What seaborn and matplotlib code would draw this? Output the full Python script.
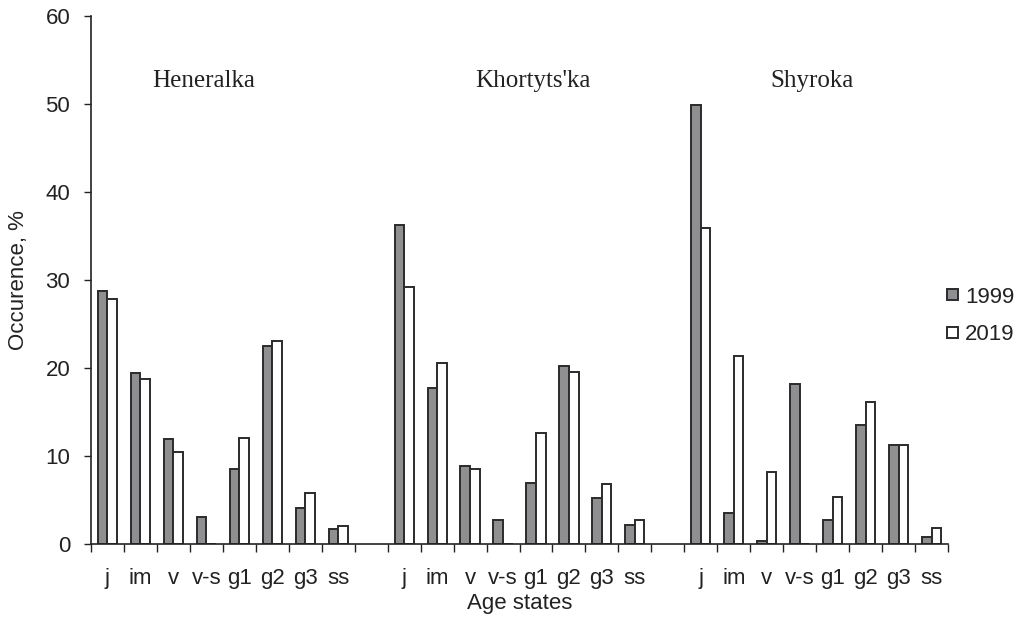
import numpy as np
import pandas as pd
import seaborn as sns
import matplotlib.pyplot as plt
from matplotlib.patches import Patch

# age states repeated for each site
states = ["j", "im", "v", "v-s", "g1", "g2", "g3", "ss"]
sites = ["Heneralka", "Khortyts'ka", "Shyroka"]
years = ["1999", "2019"]

# occurrence, %
heneralka_1999 = [28.8, 19.4, 11.9, 3.1, 8.5, 22.5, 4.1, 1.7]
heneralka_2019 = [27.8, 18.8, 10.5, 0.0, 12.1, 23.1, 5.8, 2.0]
khortytska_1999 = [36.3, 17.7, 8.9, 2.7, 6.9, 20.2, 5.2, 2.2]
khortytska_2019 = [29.2, 20.6, 8.5, 0.0, 12.6, 19.6, 6.8, 2.7]
shyroka_1999 = [49.9, 3.5, 0.3, 18.2, 2.7, 13.5, 11.2, 0.8]
shyroka_2019 = [35.9, 21.4, 8.2, 0.0, 5.3, 16.1, 11.3, 1.8]

values = {
    ("Heneralka", "1999"): heneralka_1999,
    ("Heneralka", "2019"): heneralka_2019,
    ("Khortyts'ka", "1999"): khortytska_1999,
    ("Khortyts'ka", "2019"): khortytska_2019,
    ("Shyroka", "1999"): shyroka_1999,
    ("Shyroka", "2019"): shyroka_2019,
}

rows = []
for (site, year), vals in values.items():
    for state, v in zip(states, vals):
        rows.append({"slot": f"{site}|{state}", "year": year, "value": v})
df = pd.DataFrame(rows)

# slot order with an empty slot between sites
order = []
for i, site in enumerate(sites):
    order += [f"{site}|{s}" for s in states]
    if i < len(sites) - 1:
        order.append(f"gap{i}")

sns.set_style("ticks")
plt.rcParams["font.family"] = ["Liberation Sans", "DejaVu Sans"]

colors = {"1999": "#8e8e93", "2019": "#ffffff"}
edge = "#2b2b2b"

fig = plt.figure(figsize=(10.24, 6.23), dpi=100)
ax = fig.add_axes([91 / 1024, 79 / 623, (948 - 91) / 1024, (544 - 16) / 623])

sns.barplot(
    data=df, x="slot", y="value", hue="year", order=order, hue_order=years,
    palette=colors, width=0.58, edgecolor=edge, linewidth=1.4,
    legend=False, ax=ax,
)

ax.set_xlim(-0.5, len(order) - 0.5)
ax.set_ylim(0, 60)
ax.set_yticks(np.arange(0, 61, 10))
ax.tick_params(axis="y", labelsize=16, length=5, width=1, pad=10, colors="#222222")

# boundary ticks (no labels) and centered labels
ax.set_xticks(np.arange(-0.5, len(order), 1.0))
ax.set_xticklabels([])
ax.tick_params(axis="x", which="major", length=6, width=1, color="#222222")
centers = [i for i, s in enumerate(order) if not s.startswith("gap")]
ax.set_xticks(centers, minor=True)
ax.set_xticklabels([s.split("|")[1] for s in order if not s.startswith("gap")],
                   minor=True)
ax.tick_params(axis="x", which="minor", length=0, labelsize=16, pad=17,
               labelcolor="#222222")

ax.set_xlabel("Age states", fontsize=16, color="#222222")
ax.set_ylabel("Occurence, %", fontsize=16, color="#222222")
ax.xaxis.set_label_coords(0.5, -0.093)
ax.yaxis.set_label_coords(-0.072, 0.5)

for sp in ["left", "bottom"]:
    ax.spines[sp].set_color("#222222")
    ax.spines[sp].set_linewidth(1.2)
sns.despine(ax=ax)

label_x = [2.93, 12.91, 21.38]
for site, x in zip(sites, label_x):
    ax.text(x, 51.9, site, ha="center", va="baseline", fontsize=18,
            family=["Liberation Serif", "DejaVu Serif"], color="#222222")

handles = [Patch(facecolor=colors[y], edgecolor=edge, linewidth=1.4, label=y)
           for y in years]
fig.legend(handles=handles, loc="center left",
           bbox_to_anchor=(947 / 1024, (623 - 316) / 623),
           frameon=False, fontsize=16, handlelength=0.5, handleheight=0.38,
           handletextpad=0.3, labelspacing=0.75, borderpad=0, borderaxespad=0,
           labelcolor="#222222")

fig.savefig("out.png", dpi=100)
